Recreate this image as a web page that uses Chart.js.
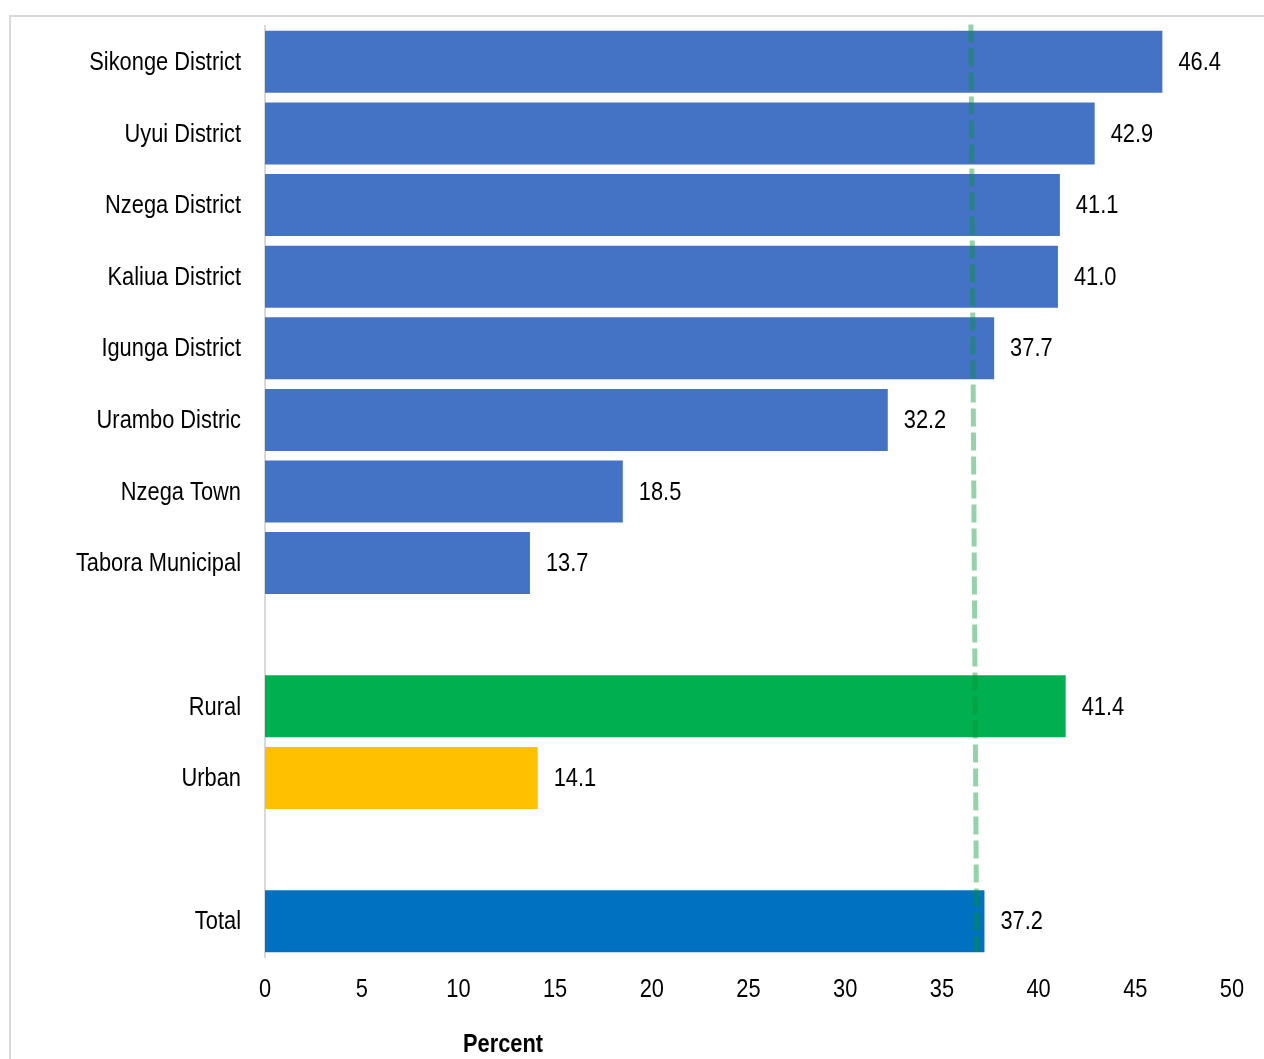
<!DOCTYPE html>
<html>
<head>
<meta charset="utf-8">
<script src="https://cdn.jsdelivr.net/npm/chart.js"></script>
<style>
  html, body { margin: 0; padding: 0; background: #fff; overflow: hidden; }
  #frame {
    position: absolute; left: 9px; top: 15px; width: 1400px; height: 1200px;
    border: 2px solid #d9d9d9; box-sizing: border-box;
  }
  #chart { position: absolute; left: 0; top: 0; }
</style>
</head>
<body>
<div id="frame"></div>
<canvas id="chart" width="1264" height="1059"></canvas>
<script>
const categories = [
    'Sikonge District', 'Uyui District', 'Nzega District', 'Kaliua District',
    'Igunga District', 'Urambo Distric', 'Nzega Town', 'Tabora Municipal',
    '', 'Rural', 'Urban', '', 'Total'
];
const values = [46.4, 42.9, 41.1, 41.0, 37.7, 32.2, 18.5, 13.7, null, 41.4, 14.1, null, 37.2];
const barColors = [
    '#4472C4', '#4472C4', '#4472C4', '#4472C4', '#4472C4', '#4472C4', '#4472C4', '#4472C4',
    '#ffffff', '#00B050', '#FFC000', '#ffffff', '#0070C0'
];
const xTicks = [0, 5, 10, 15, 20, 25, 30, 35, 40, 45, 50];
// reference line (top end, bottom end)
const refLineX = [36.5, 36.8];

// no narrow font installed, so squeeze Liberation Sans horizontally
const FONT = "'Liberation Sans', Arial, sans-serif";
const SQUEEZE = 0.84;

function narrowText(ctx, text, x, y, align) {
    ctx.save();
    ctx.translate(x, y);
    ctx.scale(SQUEEZE, 1);
    ctx.textAlign = align;
    ctx.fillText(text, 0, 0);
    ctx.restore();
}

// labels, value labels, dashed reference line and axis title
const extras = {
    id: 'extras',
    afterDatasetsDraw(chart) {
        const { ctx, scales: { x, y } } = chart;
        const meta = chart.getDatasetMeta(0);

        ctx.save();
        ctx.strokeStyle = 'rgba(0,150,50,0.42)';
        ctx.lineWidth = 5;
        ctx.setLineDash([18, 6]);
        ctx.beginPath();
        ctx.moveTo(x.getPixelForValue(refLineX[0]), y.getPixelForValue(-0.52));
        ctx.lineTo(x.getPixelForValue(refLineX[1]), y.getPixelForValue(12.43));
        ctx.stroke();
        ctx.restore();

        ctx.save();
        ctx.font = '26px ' + FONT;
        ctx.fillStyle = '#000';
        ctx.textBaseline = 'middle';
        // category labels
        categories.forEach((c, i) => {
            if (c) narrowText(ctx, c, 241, y.getPixelForValue(i) + 1, 'right');
        });
        // value labels
        meta.data.forEach((bar, i) => {
            if (values[i] == null) return;
            narrowText(ctx, values[i].toFixed(1), bar.x + 16, bar.y + 1, 'left');
        });
        // x tick labels
        xTicks.forEach(v => {
            narrowText(ctx, String(v), x.getPixelForValue(v), 990, 'center');
        });
        ctx.font = 'bold 26px ' + FONT;
        narrowText(ctx, 'Percent', 503, 1045, 'center');
        ctx.restore();
    }
};

new Chart(document.getElementById('chart'), {
    type: 'bar',
    data: {
        labels: categories,
        datasets: [{
            data: values,
            backgroundColor: barColors,
            borderWidth: 0,
            categoryPercentage: 1.0,
            barPercentage: 0.866
        }]
    },
    options: {
        indexAxis: 'y',
        responsive: false,
        animation: false,
        layout: { padding: { top: 26, right: 32, left: 0, bottom: 0 } },
        plugins: {
            legend: { display: false },
            tooltip: { enabled: false }
        },
        scales: {
            x: {
                min: 0,
                max: 50,
                afterBuildTicks: (scale) => { scale.ticks = xTicks.map(v => ({ value: v })); },
                afterFit: (scale) => { scale.height = 102; },
                grid: { display: false },
                border: { display: false },
                ticks: { display: false }
            },
            y: {
                afterFit: (scale) => { scale.width = 265; },
                grid: { display: false, drawTicks: false },
                border: { display: true, color: '#d9d9d9', width: 2 },
                ticks: { display: false, autoSkip: false }
            }
        }
    },
    plugins: [extras]
});
</script>
</body>
</html>
